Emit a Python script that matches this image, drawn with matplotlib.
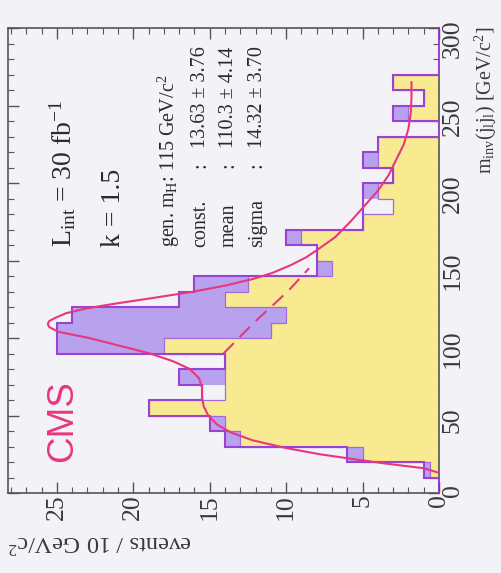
import numpy as np
import matplotlib
matplotlib.use("Agg")
import matplotlib.pyplot as plt
from matplotlib.ticker import MultipleLocator

plt.rcParams['font.family'] = 'Liberation Serif'
plt.rcParams['mathtext.fontset'] = 'custom'
plt.rcParams['mathtext.rm'] = 'Liberation Serif'
plt.rcParams['mathtext.it'] = 'Liberation Serif:italic'

# bins of 10 GeV/c2 from 0 to 300
edges = np.arange(0, 310, 10)
total = [0, 1, 6, 14, 15, 19, 15.5, 17, 14, 25, 25, 24, 17, 16, 8,
         8, 10, 5, 5, 5, 3, 5, 4, 0, 3, 1, 3, 0, 0, 0]
signal = [0, 1, 6, 14, 15, 19, 14, 17, 14, 25, 25, 24, 17, 16, 8,
          8, 10, 5, 3, 5, 3, 5, 4, 0, 3, 1, 3, 0, 0, 0]
background = [0, 0.6, 5, 13, 14, 19, 14, 14, 14, 18, 11, 10, 14, 12.5, 7,
              8, 9, 5, 3, 4, 3, 4, 4, 0, 2, 1, 3, 0, 0, 0]

# fit curve (mass, events)
fit_m = [13, 16, 19, 22, 25, 29, 34, 39, 44, 50, 56, 62, 68, 74, 80, 85, 90,
         95, 100, 104, 107, 109, 111, 113, 116, 119, 122, 126, 130, 134, 138,
         142, 147, 152, 158, 165, 175, 185, 195, 205, 215, 225, 235, 245, 255, 265]
fit_e = [0, 1.0, 3.5, 5.7, 7.8, 10.0, 12.2, 13.6, 14.5, 15.1, 15.4, 15.5, 15.5,
         15.7, 16.3, 17.4, 18.9, 20.9, 22.9, 24.9, 25.5, 25.6, 25.5, 25.1, 24.4,
         23.1, 21.3, 18.6, 16.0, 13.9, 12.2, 10.9, 9.7, 8.7, 7.8, 6.8, 5.8, 4.9,
         4.0, 3.3, 2.8, 2.3, 2.0, 1.85, 1.8, 1.8]
bkg_m = [90, 100, 110, 120, 130, 145]
bkg_e = [14.1, 13.1, 12.1, 11.0, 9.9, 8.5]

fit_names = ['const.', 'mean', 'sigma']
fit_vals = ['13.63 \u00b1 3.76', '110.3 \u00b1 4.14', '14.32 \u00b1 3.70']

bg = '#f3f3f7'
yellow = '#f8ea90'
lilac = '#b8a2ee'
purple = '#9a42d4'
pink = '#e8367f'
ink = '#2a2a2a'

fig = plt.figure(figsize=(5.02, 5.73), dpi=100, facecolor=bg)
ax = fig.add_axes([8 / 502, 1 - 493 / 573, 431 / 502, 465 / 573])
ax.set_facecolor(bg)

ax.stairs(signal, edges, orientation='horizontal', fill=True, color=lilac, zorder=1)
ax.stairs(background, edges, orientation='horizontal', fill=True, color=yellow, zorder=2)
ax.stairs(background, edges, orientation='horizontal', color='#a46ad8', lw=0.9, zorder=2.5)
ax.stairs(total, edges, orientation='horizontal', color=purple, lw=1.5, zorder=3)

ax.plot(fit_e, fit_m, color=pink, lw=1.5, zorder=4)
ax.plot(bkg_e, bkg_m, color=pink, lw=1.5, ls=(0, (7, 4)), zorder=4)

ax.set_xlim(28.2, 0)
ax.set_ylim(0, 300)
ax.xaxis.set_major_locator(MultipleLocator(5))
ax.xaxis.set_minor_locator(MultipleLocator(1))
ax.yaxis.set_major_locator(MultipleLocator(50))
ax.yaxis.set_minor_locator(MultipleLocator(10))
ax.tick_params(which='both', direction='in', top=True, bottom=True, left=True,
               right=True, labelleft=False, labelright=True, colors='#555555',
               labelcolor='#3a3a3a', labelsize=18.5)
ax.tick_params(which='major', length=8, width=1)
ax.tick_params(which='minor', length=4, width=0.8)
ax.tick_params(axis='x', labelrotation=90, pad=1)
ax.tick_params(axis='y', labelrotation=90, pad=2)
for s in ax.spines.values():
    s.set_color('#555555')
    s.set_linewidth(1.2)

# texts, drawn rotated like the page
ax.text(24.6, 46.5, 'CMS', family='Liberation Sans', color=pink, fontsize=26.5,
        rotation=90, ha='center', va='center')
ax.text(24.0, 158.7, r'L$_{\rm int}$ = 30 fb$^{-1}$', fontsize=20, color=ink,
        rotation=90, rotation_mode='anchor', ha='left', va='baseline')
ax.text(20.85, 158.7, 'k = 1.5', fontsize=20, color=ink,
        rotation=90, rotation_mode='anchor', ha='left', va='baseline')
ax.text(17.3, 158.7, r'gen. m$_{\rm H}$: 115 GeV/c$^{2}$', fontsize=14.5, color=ink,
        rotation=90, rotation_mode='anchor', ha='left', va='baseline')
for i, (nm, val) in enumerate(zip(fit_names, fit_vals)):
    ex = 15.3 - 1.85 * i
    ax.text(ex, 158.7, nm, fontsize=14.5, color=ink,
            rotation=90, rotation_mode='anchor', ha='left', va='baseline')
    ax.text(ex, 210.0, ':', fontsize=14.5, color=ink,
            rotation=90, rotation_mode='anchor', ha='left', va='baseline')
    ax.text(ex, 222.6, val, fontsize=14.5, color=ink,
            rotation=90, rotation_mode='anchor', ha='left', va='baseline')

fig.text(492 / 502, 1 - 27 / 573, r'm$_{\rm inv}$(j$_{\rm l}$j$_{\rm l}$) [GeV/c$^{2}$]',
         fontsize=14.5, color='#3a3a3a', rotation=90, rotation_mode='anchor',
         ha='right', va='baseline')
fig.text(8 / 502, 1 - 535 / 573, r'events / 10 GeV/c$^{2}$',
         fontsize=17.5, color='#3a3a3a', rotation=180, rotation_mode='anchor',
         ha='right', va='baseline')

fig.savefig('out.png', dpi=100, facecolor=bg)
